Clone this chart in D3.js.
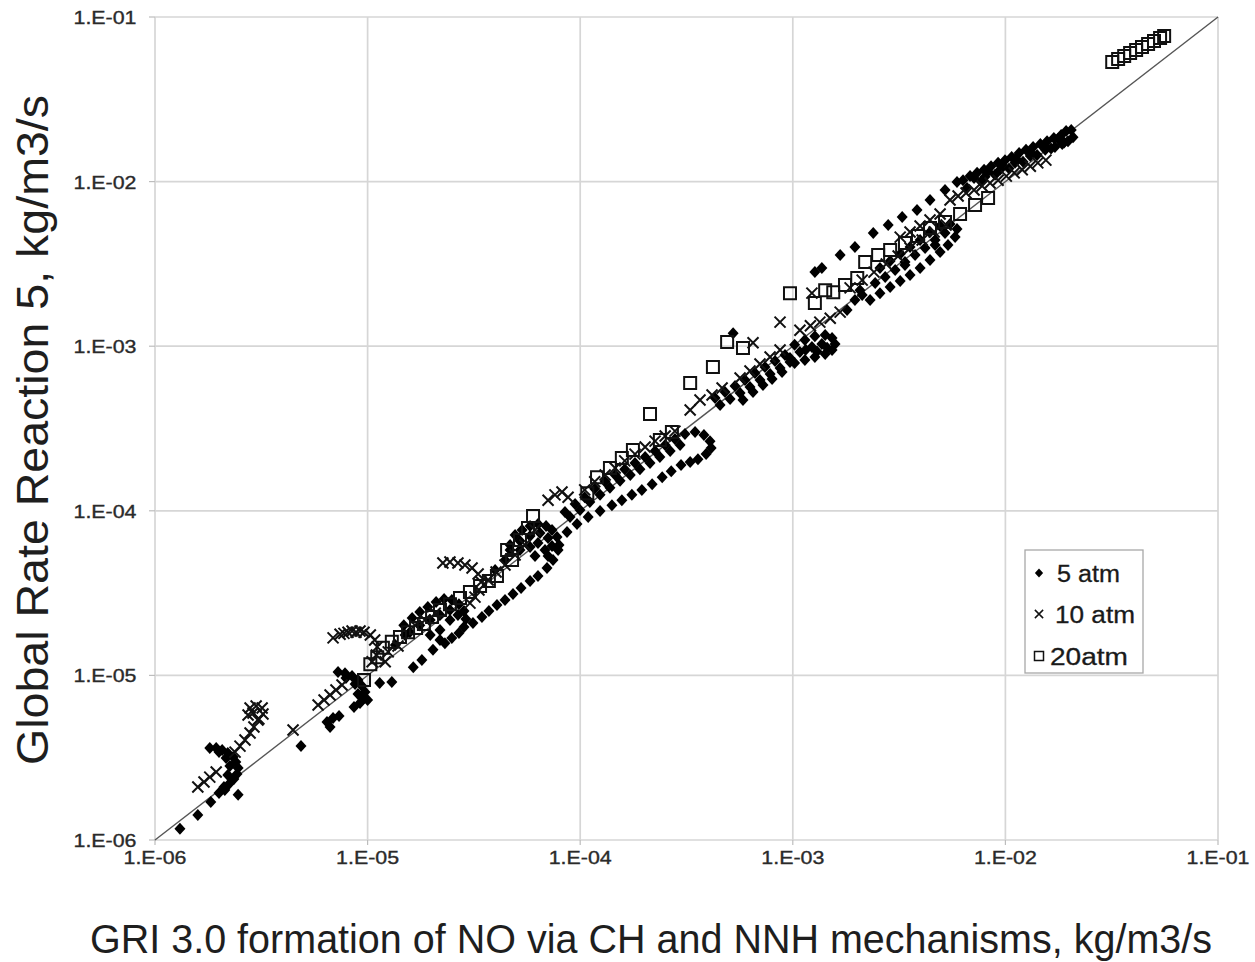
<!DOCTYPE html>
<html><head><meta charset="utf-8">
<script src="https://cdn.jsdelivr.net/npm/d3@7"></script>
<style>body{margin:0;background:#fff}svg{display:block}</style>
</head><body>
<svg id="chart" width="1255" height="962"></svg>
<script>
const xTicks = [1e-6, 1e-5, 1e-4, 1e-3, 1e-2, 1e-1];
const yTicks = [1e-6, 1e-5, 1e-4, 1e-3, 1e-2, 1e-1];
const tickLabels = ["1.E-06", "1.E-05", "1.E-04", "1.E-03", "1.E-02", "1.E-01"];
const seriesNames = ["5 atm", "10 atm", "20atm"];
const xTitle = "GRI 3.0 formation of NO via CH and NNH mechanisms, kg/m3/s";
const yTitle = "Global Rate Reaction 5, kg/m3/s";

const atm5 = [
[1.31e-6,1.17e-6],[1.59e-6,1.42e-6],[1.83e-6,1.70e-6],[2.0e-6,1.93e-6],[2.46e-6,1.88e-6],[2.13e-6,2.01e-6],
[1.81e-6,3.62e-6],[1.94e-6,3.62e-6],[2.07e-6,3.52e-6],[2.2e-6,3.38e-6],[2.33e-6,3.19e-6],[2.40e-6,2.98e-6],
[2.46e-6,2.74e-6],[2.43e-6,2.52e-6],[2.35e-6,2.35e-6],[2.23e-6,2.19e-6],[2.11e-6,2.10e-6],[2.0e-6,3.42e-6],
[2.16e-6,3.15e-6],[2.25e-6,2.82e-6],[2.2e-6,2.48e-6],
[4.86e-6,3.72e-6],[6.44e-6,5.21e-6],[6.88e-6,5.51e-6],[7.34e-6,5.67e-6],[6.66e-6,4.86e-6],
[7.26e-6,1.05e-5],[7.83e-6,1.03e-5],[8.45e-6,9.9e-6],[9.01e-6,9.38e-6],[9.41e-6,8.62e-6],[9.72e-6,7.93e-6],
[9.62e-6,7.29e-6],[9.21e-6,6.80e-6],[8.63e-6,6.43e-6],[7.91e-6,9.64e-6],[8.73e-6,8.87e-6],[9.01e-6,7.71e-6],
[1.0e-5,7.09e-6],[1.14e-5,8.99e-6],[1.30e-5,9.12e-6],[1.64e-5,1.12e-5],[1.80e-5,1.24e-5],[2.03e-5,1.43e-5],[2.19e-5,1.64e-5],
[1.76e-5,2.43e-5],[1.92e-5,2.60e-5],[2.10e-5,2.79e-5],[2.29e-5,2.91e-5],[2.49e-5,2.87e-5],[2.69e-5,2.71e-5],
[2.84e-5,2.46e-5],[2.90e-5,2.20e-5],[2.84e-5,1.97e-5],[2.69e-5,1.81e-5],[2.49e-5,1.69e-5],[2.31e-5,1.57e-5],
[1.62e-5,2.23e-5],[1.48e-5,2.02e-5],[2.44e-5,2.17e-5],
[1.76e-5,2.02e-5],[1.97e-5,2.17e-5],[2.19e-5,2.33e-5],[2.44e-5,2.50e-5],[2.66e-5,2.33e-5],[1.97e-5,1.76e-5],
[2.19e-5,1.89e-5],[1.58e-5,1.83e-5],
[3.13e-5,2.08e-5],[3.45e-5,2.26e-5],[3.72e-5,2.46e-5],[4.06e-5,2.68e-5],[4.43e-5,2.87e-5],[4.83e-5,3.12e-5],
[5.27e-5,3.40e-5],[5.81e-5,3.74e-5],[6.33e-5,4.02e-5],[6.98e-5,4.49e-5],[7.45e-5,5.02e-5],[7.87e-5,5.78e-5],
[4.94e-5,7.13e-5],[5.33e-5,7.64e-5],[5.81e-5,8.08e-5],[6.33e-5,8.31e-5],[6.91e-5,8.08e-5],[7.37e-5,7.64e-5],
[7.78e-5,6.93e-5],[7.95e-5,6.20e-5],[5.21e-5,6.55e-5],[5.81e-5,7.03e-5],[6.47e-5,7.33e-5],[7.06e-5,6.83e-5],[7.37e-5,6.11e-5],
[4.68e-5,6.20e-5],[5.21e-5,5.78e-5],[5.81e-5,6.03e-5],[6.33e-5,6.37e-5],[6.83e-5,5.78e-5],[6.13e-5,5.31e-5],[7.06e-5,5.31e-5],
[8.48e-5,9.83e-5],[9.46e-5,1.10e-4],[1.05e-4,1.21e-4],[1.17e-4,1.36e-4],[1.31e-4,1.50e-4],[1.46e-4,1.65e-4],
[1.62e-4,1.79e-4],[1.81e-4,1.95e-4],[2.02e-4,2.12e-4],[2.25e-4,2.31e-4],[2.51e-4,2.51e-4],[2.79e-4,2.73e-4],[3.11e-4,2.93e-4],
[8.96e-5,9.17e-5],[9.98e-5,1.01e-4],[1.11e-4,1.13e-4],[1.24e-4,1.25e-4],[1.38e-4,1.38e-4],[1.54e-4,1.52e-4],
[1.72e-4,1.65e-4],[1.91e-4,1.79e-4],[2.13e-4,1.95e-4],[2.37e-4,2.12e-4],[2.65e-4,2.31e-4],[2.95e-4,2.51e-4],
[3.47e-4,3.01e-4],[3.82e-4,2.89e-4],[4.08e-4,2.65e-4],[4.13e-4,2.41e-4],[3.91e-4,2.21e-4],[3.58e-4,2.06e-4],[3.29e-4,1.98e-4],
[8.67e-5,7.43e-5],[9.66e-5,8.31e-5],[1.09e-4,9.17e-5],[1.24e-4,9.97e-5],[1.41e-4,1.08e-4],[1.57e-4,1.16e-4],
[1.75e-4,1.25e-4],[1.95e-4,1.34e-4],[2.18e-4,1.45e-4],[2.43e-4,1.60e-4],[2.68e-4,1.74e-4],[2.98e-4,1.90e-4],
[4.31e-4,4.84e-4],[4.80e-4,5.27e-4],[5.35e-4,5.73e-4],[5.96e-4,6.23e-4],[6.64e-4,6.87e-4],[7.40e-4,7.47e-4],
[8.25e-4,8.13e-4],[9.19e-4,8.84e-4],
[4.55e-4,4.39e-4],[5.07e-4,4.78e-4],[5.65e-4,5.19e-4],[6.29e-4,5.65e-4],[7.01e-4,6.23e-4],[7.82e-4,6.78e-4],
[8.71e-4,7.37e-4],[9.70e-4,8.01e-4],
[5.83e-4,4.71e-4],[6.50e-4,5.27e-4],[7.24e-4,5.81e-4],[7.99e-4,6.32e-4],[8.90e-4,6.97e-4],
[1.02e-3,1.02e-3],[1.14e-3,1.09e-3],[1.27e-3,1.15e-3],[1.42e-3,1.17e-3],[1.53e-3,1.12e-3],[1.58e-3,1.03e-3],
[1.53e-3,9.48e-4],[1.42e-3,8.97e-4],[1.27e-3,8.60e-4],[1.14e-3,8.24e-4],[1.02e-3,7.90e-4],[1.08e-3,9.22e-4],
[1.23e-3,9.88e-4],[1.37e-3,1.03e-3],[9.70e-4,8.48e-4],[1.15e-3,9.50e-4],[1.30e-3,9.30e-4],[1.45e-3,9.80e-4],
[5.24e-4,1.20e-3],[1.27e-3,2.82e-3],[1.37e-3,2.99e-3],[1.67e-3,3.58e-3],[1.96e-3,4.0e-3],[2.39e-3,4.87e-3],
[2.81e-3,5.45e-3],[3.27e-3,6.09e-3],[3.84e-3,6.72e-3],[4.42e-3,7.73e-3],[5.20e-3,8.89e-3],[5.92e-3,9.94e-3],
[2.31e-3,1.91e-3],[2.57e-3,2.10e-3],[2.87e-3,2.29e-3],[3.20e-3,2.49e-3],[3.56e-3,2.71e-3],[3.97e-3,2.99e-3],
[4.42e-3,3.34e-3],[4.93e-3,3.73e-3],[5.37e-3,4.12e-3],[5.80e-3,4.60e-3],[5.92e-3,5.15e-3],[5.49e-3,5.52e-3],
[4.93e-3,5.37e-3],[4.42e-3,4.94e-3],[3.97e-3,4.42e-3],[3.56e-3,4.0e-3],[3.20e-3,3.63e-3],[2.87e-3,3.29e-3],
[2.57e-3,2.99e-3],[2.07e-3,2.19e-3],[1.80e-3,1.66e-3],[3.37e-3,3.11e-3],[4.67e-3,4.12e-3],
[2.44e-3,2.42e-3],[2.72e-3,2.63e-3],[3.03e-3,2.90e-3],[3.37e-3,3.25e-3],[3.76e-3,3.58e-3],[4.19e-3,3.95e-3],
[4.67e-3,4.42e-3],[5.20e-3,4.87e-3],[2.12e-3,2.05e-3],[1.96e-3,1.91e-3],
[6.32e-3,1.02e-2],[6.82e-3,1.08e-2],[7.36e-3,1.13e-2],[7.94e-3,1.18e-2],[8.56e-3,1.24e-2],[9.24e-3,1.30e-2],
[9.96e-3,1.35e-2],[1.07e-2,1.41e-2],[1.16e-2,1.49e-2],[1.25e-2,1.56e-2],[1.35e-2,1.62e-2],[1.46e-2,1.69e-2],
[1.57e-2,1.76e-2],[1.69e-2,1.84e-2],[1.83e-2,1.92e-2],[1.93e-2,2.03e-2],[2.04e-2,2.06e-2],[2.08e-2,1.86e-2],
[1.97e-2,1.76e-2],[1.85e-2,1.69e-2],[1.71e-2,1.62e-2],[1.54e-2,1.56e-2],[1.31e-2,1.43e-2],[1.11e-2,1.30e-2],
[9.44e-3,1.18e-2],[8.02e-3,1.07e-2],
[6.60e-3,9.13e-3],[7.68e-3,1.00e-2],[8.94e-3,1.10e-2],[1.04e-2,1.20e-2],[1.21e-2,1.32e-2],[1.41e-2,1.45e-2],
[1.64e-2,1.59e-2],[1.89e-2,1.73e-2],
[7.12e-3,1.05e-2],[8.29e-3,1.15e-2],[9.64e-3,1.26e-2],[1.12e-2,1.38e-2],[1.31e-2,1.51e-2],[1.52e-2,1.66e-2],[1.77e-2,1.82e-2],
[1.35e-5,1.53e-5],[1.50e-5,1.76e-5],[3.98e-5,4.37e-5],[4.43e-5,5.02e-5],[4.68e-5,5.78e-5]
];

const atm10 = [
[1.59e-6,2.10e-6],[1.70e-6,2.25e-6],[1.81e-6,2.41e-6],[1.94e-6,2.59e-6],
[2.38e-6,3.42e-6],[2.51e-6,3.72e-6],[2.65e-6,4.05e-6],[2.80e-6,4.47e-6],[2.92e-6,4.86e-6],[3.05e-6,5.36e-6],
[2.80e-6,6.34e-6],[2.99e-6,6.52e-6],[3.19e-6,6.34e-6],[3.22e-6,5.83e-6],[3.08e-6,5.43e-6],[2.89e-6,5.91e-6],[2.74e-6,5.75e-6],
[4.46e-6,4.66e-6],[5.85e-6,6.61e-6],[6.24e-6,7.09e-6],[6.66e-6,7.60e-6],[7.10e-6,8.15e-6],[7.58e-6,8.74e-6],
[6.88e-6,1.69e-5],[7.42e-6,1.78e-5],[8.09e-6,1.83e-5],[8.82e-6,1.83e-5],[9.62e-6,1.83e-5],[1.03e-5,1.76e-5],
[1.08e-5,1.64e-5],[1.11e-5,1.49e-5],[1.10e-5,1.33e-5],[1.05e-5,1.21e-5],[7.74e-6,1.80e-5],[8.45e-6,1.86e-5],[9.21e-6,1.86e-5],
[1.25e-5,1.39e-5],[1.39e-5,1.51e-5],[1.21e-5,1.21e-5],
[1.67e-5,2.02e-5],[1.86e-5,2.17e-5],[2.08e-5,2.39e-5],
[2.26e-5,4.82e-5],[2.44e-5,4.89e-5],[2.66e-5,4.82e-5],[2.87e-5,4.68e-5],[3.10e-5,4.49e-5],[3.31e-5,4.13e-5],
[3.42e-5,3.69e-5],[3.34e-5,3.30e-5],[3.20e-5,2.99e-5],[3.03e-5,2.75e-5],
[3.69e-5,3.80e-5],[4.02e-5,4.25e-5],[4.43e-5,4.68e-5],[4.94e-5,5.39e-5],[5.50e-5,6.20e-5],[6.13e-5,7.64e-5],
[7.06e-5,1.16e-4],[7.61e-5,1.25e-4],[8.21e-5,1.30e-4],[8.77e-5,1.21e-4],
[1.05e-4,1.34e-4],[1.17e-4,1.50e-4],[1.31e-4,1.65e-4],[1.46e-4,1.82e-4],[1.62e-4,2.01e-4],[1.81e-4,2.21e-4],
[2.02e-4,2.44e-4],[2.25e-4,2.65e-4],[2.51e-4,2.85e-4],[2.79e-4,3.05e-4],
[3.29e-4,4.10e-4],[3.66e-4,4.71e-4],[4.17e-4,5.05e-4],[4.65e-4,5.57e-4],
[5.65e-4,6.41e-4],[6.29e-4,7.07e-4],[7.01e-4,7.80e-4],[7.82e-4,8.60e-4],[8.71e-4,9.48e-4],[6.50e-4,1.05e-3],
[8.71e-4,1.40e-3],[1.23e-3,2.10e-3],[1.08e-3,1.25e-3],[1.21e-3,1.33e-3],[1.34e-3,1.40e-3],[1.50e-3,1.48e-3],[1.67e-3,1.61e-3],
[1.86e-3,2.26e-3],[2.12e-3,2.52e-3],[2.41e-3,2.82e-3],[2.75e-3,3.16e-3],[3.13e-3,3.53e-3],[3.56e-3,3.95e-3],
[4.06e-3,4.42e-3],[4.62e-3,4.94e-3],[5.26e-3,5.45e-3],
[3.20e-3,4.60e-3],[3.56e-3,4.94e-3],[3.97e-3,5.37e-3],[4.42e-3,5.84e-3],[4.93e-3,6.35e-3],[5.49e-3,7.73e-3],
[5.99e-3,8.17e-3],[6.53e-3,8.52e-3],[7.12e-3,8.89e-3],[7.77e-3,9.40e-3],[8.47e-3,9.80e-3],[9.24e-3,1.02e-2],
[1.01e-2,1.08e-2],[1.10e-2,1.13e-2],[1.20e-2,1.18e-2],[1.31e-2,1.24e-2],[1.42e-2,1.30e-2],[1.55e-2,1.35e-2]
];

const atm20 = [
[9.62e-6,9.38e-6],[1.03e-5,1.17e-5],[1.11e-5,1.29e-5],[1.18e-5,1.47e-5],[1.30e-5,1.60e-5],[1.42e-5,1.71e-5],
[1.55e-5,1.83e-5],[1.69e-5,1.94e-5],[1.84e-5,2.05e-5],
[2.01e-5,2.26e-5],[2.19e-5,2.50e-5],[2.44e-5,2.71e-5],[2.72e-5,2.95e-5],[3.03e-5,3.21e-5],[3.38e-5,3.49e-5],
[3.72e-5,3.74e-5],[4.06e-5,4.02e-5],[4.53e-5,5.78e-5],[4.78e-5,5.02e-5],[5.21e-5,6.65e-5],[6.00e-5,9.30e-5],[5.68e-5,7.86e-5],
[1.08e-4,1.28e-4],[1.20e-4,1.60e-4],[1.38e-4,1.82e-4],[1.57e-4,2.09e-4],[1.77e-4,2.34e-4],[2.13e-4,3.87e-4],
[2.37e-4,2.69e-4],[2.70e-4,3.01e-4],[3.29e-4,5.98e-4],[4.21e-4,7.47e-4],[4.91e-4,1.06e-3],[5.83e-4,9.75e-4],
[9.70e-4,2.10e-3],[1.27e-3,1.83e-3],[1.55e-3,2.13e-3],[2.01e-3,2.60e-3],[1.76e-3,2.35e-3],
[1.42e-3,2.19e-3],[2.19e-3,3.25e-3],[2.52e-3,3.58e-3],[2.87e-3,3.84e-3],[3.37e-3,4.24e-3],[3.88e-3,4.67e-3],
[4.42e-3,5.22e-3],[5.20e-3,5.68e-3],[6.12e-3,6.35e-3],[7.20e-3,7.20e-3],[8.29e-3,7.95e-3],
[3.18e-2,5.33e-2],[3.39e-2,5.55e-2],[3.62e-2,5.79e-2],[3.86e-2,6.04e-2],[4.12e-2,6.30e-2],[4.39e-2,6.57e-2],
[4.69e-2,6.85e-2],[5.0e-2,7.14e-2],[5.34e-2,7.45e-2],[5.58e-2,7.66e-2]
];

const svg = d3.select("#chart");
const x = d3.scaleLog().domain([1e-6, 1e-1]).range([155, 1218]);
const y = d3.scaleLog().domain([1e-6, 1e-1]).range([840, 17]);
const font = "'Liberation Sans', Arial, sans-serif";

// grid
svg.append("g").selectAll("line").data(xTicks).join("line")
  .attr("x1", d => x(d)).attr("x2", d => x(d)).attr("y1", y(1e-1)).attr("y2", y(1e-6))
  .attr("stroke", "#d6d6d6").attr("stroke-width", 1.7);
svg.append("g").selectAll("line").data(yTicks).join("line")
  .attr("x1", x(1e-6)).attr("x2", x(1e-1)).attr("y1", d => y(d)).attr("y2", d => y(d))
  .attr("stroke", "#d6d6d6").attr("stroke-width", 1.7);
// axis ticks
svg.append("g").selectAll("line").data(yTicks).join("line")
  .attr("x1", x(1e-6) - 6).attr("x2", x(1e-6)).attr("y1", d => y(d)).attr("y2", d => y(d))
  .attr("stroke", "#bdbdbd").attr("stroke-width", 1.2);
svg.append("g").selectAll("line").data(xTicks).join("line")
  .attr("x1", d => x(d)).attr("x2", d => x(d)).attr("y1", y(1e-6)).attr("y2", y(1e-6) + 5)
  .attr("stroke", "#bdbdbd").attr("stroke-width", 1.2);

// tick labels
svg.append("g").selectAll("text").data(yTicks).join("text")
  .attr("x", 105).attr("y", d => y(d) + 7)
  .attr("text-anchor", "middle").attr("font-family", font).attr("font-size", 19)
  .attr("fill", "#2a2a2a").attr("stroke", "#2a2a2a").attr("stroke-width", 0.35)
  .attr("textLength", 63).attr("lengthAdjust", "spacingAndGlyphs")
  .text((d, i) => tickLabels[i]);
svg.append("g").selectAll("text").data(xTicks).join("text")
  .attr("x", d => x(d)).attr("y", 864)
  .attr("text-anchor", "middle").attr("font-family", font).attr("font-size", 19)
  .attr("fill", "#2a2a2a").attr("stroke", "#2a2a2a").attr("stroke-width", 0.35)
  .attr("textLength", 63).attr("lengthAdjust", "spacingAndGlyphs")
  .text((d, i) => tickLabels[i]);

// titles
svg.append("text").attr("x", 651).attr("y", 953).attr("text-anchor", "middle")
  .attr("font-family", font).attr("font-size", 40).attr("fill", "#1e1e1e")
  .attr("textLength", 1122).attr("lengthAdjust", "spacingAndGlyphs").text(xTitle);
svg.append("text").attr("transform", "translate(48,430) rotate(-90)").attr("text-anchor", "middle")
  .attr("font-family", font).attr("font-size", 44).attr("fill", "#1e1e1e")
  .attr("textLength", 670).attr("lengthAdjust", "spacingAndGlyphs").text(yTitle);

// 1:1 line
const lineGen = d3.line().x(d => x(d)).y(d => y(d));
svg.append("path").attr("d", lineGen([1e-6, 1e-1])).attr("stroke", "#555")
  .attr("stroke-width", 1.4).attr("fill", "none");

const diamond = "M0,-6L5.5,0L0,6L-5.5,0Z";
const cross = "M-5.5,-5.5L5.5,5.5M-5.5,5.5L5.5,-5.5";
const square = "M-6,-6H6V6H-6Z";

svg.append("g").selectAll("path").data(atm5).join("path")
  .attr("transform", d => `translate(${x(d[0])},${y(d[1])})`)
  .attr("d", diamond).attr("fill", "#000");
svg.append("g").selectAll("path").data(atm10).join("path")
  .attr("transform", d => `translate(${x(d[0])},${y(d[1])})`)
  .attr("d", cross).attr("fill", "none").attr("stroke", "#111").attr("stroke-width", 2);
svg.append("g").selectAll("path").data(atm20).join("path")
  .attr("transform", d => `translate(${x(d[0])},${y(d[1])})`)
  .attr("d", square).attr("fill", "none").attr("stroke", "#111").attr("stroke-width", 2);

// legend
const lg = svg.append("g");
lg.append("rect").attr("x", 1025).attr("y", 550).attr("width", 118).attr("height", 123)
  .attr("fill", "#fff").attr("stroke", "#a8a8a8").attr("stroke-width", 1.3);
const legendShapes = [diamond, cross, square];
const legendY = [573, 614, 656];
const legendX = [1057, 1055, 1050];
const legendW = [63, 80, 78];
seriesNames.forEach((name, i) => {
  const p = lg.append("path").attr("transform", `translate(1039,${legendY[i]}) scale(0.75)`).attr("d", legendShapes[i]);
  if (i === 0) p.attr("fill", "#000");
  else p.attr("fill", "none").attr("stroke", "#111").attr("stroke-width", 2);
  lg.append("text").attr("x", legendX[i]).attr("y", legendY[i] + 9)
    .attr("font-family", font).attr("font-size", 23).attr("fill", "#1a1a1a")
    .attr("stroke", "#1a1a1a").attr("stroke-width", 0.3)
    .attr("textLength", legendW[i]).attr("lengthAdjust", "spacingAndGlyphs").text(name);
});
</script>
</body></html>
